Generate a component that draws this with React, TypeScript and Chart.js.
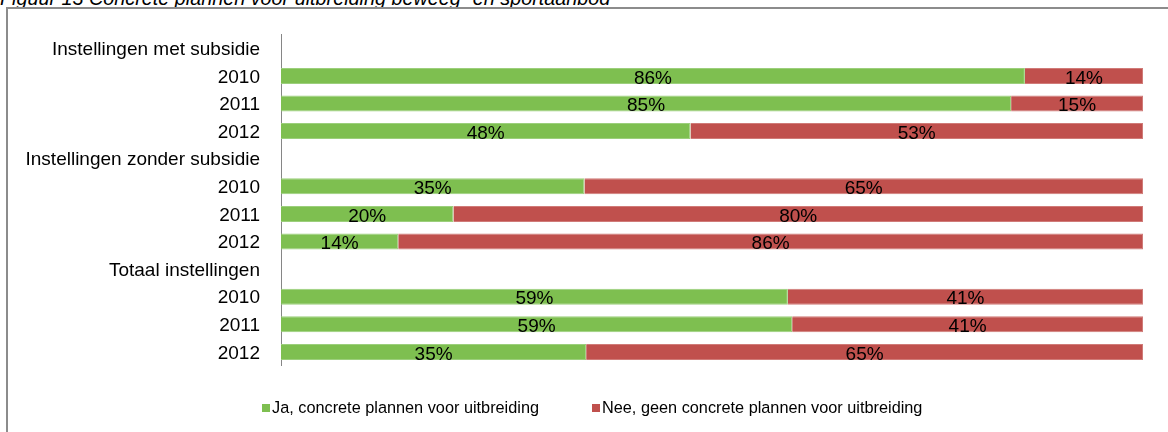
import React, { useEffect, useRef } from "react";
import { Chart, registerables } from "chart.js";

Chart.register(...registerables);

const titleText = "Figuur 13 Concrete plannen voor uitbreiding beweeg- en sportaanbod";
const categories = [
  "Instellingen met subsidie",
  "2010",
  "2011",
  "2012",
  "Instellingen zonder subsidie",
  "2010",
  "2011",
  "2012",
  "Totaal instellingen",
  "2010",
  "2011",
  "2012",
];
const seriesNames = [
  "Ja, concrete plannen voor uitbreiding",
  "Nee, geen concrete plannen voor uitbreiding",
];
const jaValues = [null, 86.3, 84.7, 47.5, null, 35.2, 20.0, 13.6, null, 58.8, 59.3, 35.4];
const neeValues = [null, 13.7, 15.3, 52.5, null, 64.8, 80.0, 86.4, null, 41.2, 40.7, 64.6];
const seriesColors = ["#7EBF50", "#C0504D"];
const seriesEdgeColors = ["#9CCF7C", "#D07B78"];

const FONT = '"Liberation Sans", Arial, sans-serif';

const segmentLabels = {
  id: "segmentLabels",
  afterDatasetsDraw(chart: any) {
    const ctx = chart.ctx;
    ctx.save();
    ctx.font = `19px ${FONT}`;
    ctx.fillStyle = "#000";
    ctx.textAlign = "center";
    ctx.textBaseline = "alphabetic";
    chart.data.datasets.forEach((ds: any, di: number) => {
      const meta = chart.getDatasetMeta(di);
      meta.data.forEach((el: any, i: number) => {
        const v = ds.data[i];
        if (v == null) return;
        const p = el.getProps(["x", "y", "base"], true);
        ctx.fillText(`${Math.round(v)}%`, (p.x + p.base) / 2, p.y + 7.7);
      });
    });
    ctx.restore();
  },
};

const bottomLegend = {
  id: "bottomLegend",
  afterDraw(chart: any) {
    const ctx = chart.ctx;
    ctx.save();
    ctx.font = `16.3px ${FONT}`;
    ctx.textBaseline = "middle";
    ctx.textAlign = "left";
    let x = 262;
    const y = 408;
    chart.data.datasets.forEach((ds: any) => {
      ctx.fillStyle = ds.backgroundColor;
      ctx.fillRect(x, y - 4, 8, 8);
      ctx.fillStyle = "#000";
      ctx.fillText(ds.label, x + 10, y + 0.5);
      x += 10 + ctx.measureText(ds.label).width + 53;
    });
    ctx.restore();
  },
};

export default function App() {
  const ref = useRef<HTMLCanvasElement | null>(null);

  useEffect(() => {
    if (!ref.current) return;
    const chart = new Chart(ref.current, {
      type: "bar",
      data: {
        labels: categories,
        datasets: [
          {
            label: seriesNames[0],
            data: jaValues,
            backgroundColor: seriesColors[0],
            borderColor: seriesEdgeColors[0],
            borderWidth: 1,
            categoryPercentage: 1,
            barPercentage: 0.58,
          },
          {
            label: seriesNames[1],
            data: neeValues,
            backgroundColor: seriesColors[1],
            borderColor: seriesEdgeColors[1],
            borderWidth: 1,
            categoryPercentage: 1,
            barPercentage: 0.58,
          },
        ],
      },
      options: {
        animation: false,
        responsive: false,
        maintainAspectRatio: false,
        indexAxis: "y",
        layout: { padding: { top: 34.5, right: 25, bottom: 66.3, left: 0 } },
        plugins: {
          legend: { display: false },
          tooltip: { enabled: false },
          title: { display: false },
        },
        scales: {
          x: { stacked: true, min: 0, max: 100, display: false },
          y: {
            stacked: true,
            grid: { display: false, drawTicks: false },
            border: { display: true, color: "#868686", width: 1 },
            ticks: {
              autoSkip: false,
              padding: 21,
              color: "#000",
              labelOffset: 1.5,
              font: { family: FONT, size: 19 },
            },
            afterFit: (s: any) => {
              s.width = 281;
            },
          },
        },
      },
      plugins: [segmentLabels, bottomLegend],
    } as any);
    return () => chart.destroy();
  }, []);

  return (
    <div
      style={{
        position: "absolute",
        left: 0,
        top: 0,
        width: 1168,
        height: 432,
        overflow: "hidden",
        background: "#fff",
      }}
    >
      <div
        style={{
          position: "absolute",
          left: 0,
          top: -12.5,
          whiteSpace: "nowrap",
          fontFamily: FONT,
          fontStyle: "italic",
          fontSize: 19.8,
          lineHeight: "20px",
          color: "#000",
        }}
      >
        {titleText}
      </div>
      <div
        style={{
          position: "absolute",
          left: 6,
          top: 7,
          width: 1300,
          height: 600,
          borderLeft: "2px solid #8c8c8c",
          borderTop: "2px solid #8c8c8c",
        }}
      />
      <canvas
        ref={ref}
        width={1168}
        height={432}
        style={{ position: "absolute", left: 0, top: 0, width: 1168, height: 432, display: "block" }}
      />
    </div>
  );
}
